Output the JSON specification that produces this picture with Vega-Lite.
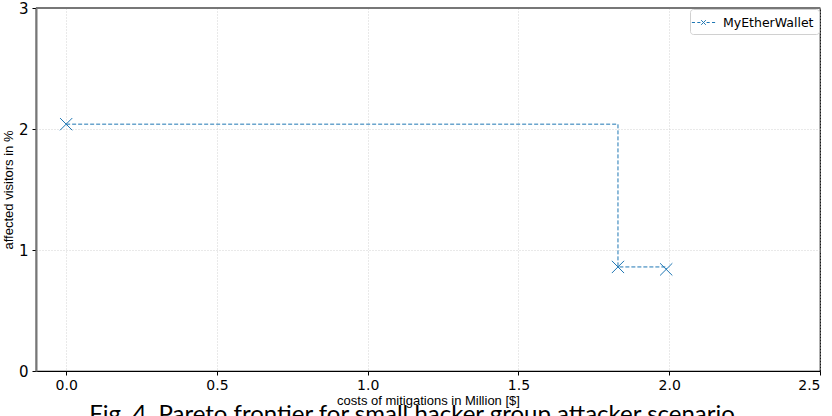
{
  "$schema": "https://vega.github.io/schema/vega-lite/v6.json",
  "width": 784,
  "height": 363,
  "autosize": {"type": "none"},
  "padding": {"left": 36, "top": 8, "right": 12, "bottom": 45},
  "background": "white",
  "title": {
    "text": "Fig. 4. Pareto frontier for small hacker group attacker scenario",
    "orient": "bottom",
    "anchor": "middle",
    "font": "Lato",
    "fontSize": 24,
    "fontWeight": "normal",
    "color": "#000",
    "dx": -16,
    "offset": -4
  },
  "config": {
    "view": {"stroke": "#000", "strokeWidth": 1.2},
    "axis": {
      "labelFont": "DejaVu Sans",
      "titleFont": "DejaVu Sans",
      "labelColor": "#000",
      "titleColor": "#000",
      "titleFontWeight": "normal",
      "grid": true,
      "gridColor": "#c8c8c8",
      "gridDash": [1, 2],
      "gridWidth": 0.8,
      "tickColor": "#000",
      "tickSize": 4
    }
  },
  "data": {
    "values": [
      {"cost": 0.0, "visitors": 2.04, "series": "MyEtherWallet"},
      {"cost": 1.83, "visitors": 0.86, "series": "MyEtherWallet"},
      {"cost": 1.99, "visitors": 0.84, "series": "MyEtherWallet"}
    ]
  },
  "encoding": {
    "x": {
      "field": "cost",
      "type": "quantitative",
      "scale": {"domain": [-0.1, 2.5], "nice": false, "zero": false},
      "axis": {
        "values": [0, 0.5, 1, 1.5, 2, 2.5],
        "format": ".1f",
        "labelFontSize": 14,
        "labelPadding": 3,
        "title": "costs of mitigations in Million [$]",
        "titleFont": "Liberation Sans",
        "titleFontSize": 13,
        "titlePadding": 2,
        "domainColor": "#000",
        "domainWidth": 1.2
      }
    },
    "y": {
      "field": "visitors",
      "type": "quantitative",
      "scale": {"domain": [0, 3], "nice": false},
      "axis": {
        "values": [0, 1, 2, 3],
        "format": "d",
        "labelFontSize": 15,
        "labelPadding": 4,
        "title": "affected visitors in %",
        "titleFont": "Liberation Sans",
        "titleFontSize": 13,
        "titlePadding": 3,
        "domainColor": "#777",
        "domainWidth": 2
      }
    },
    "color": {
      "field": "series",
      "type": "nominal",
      "scale": {"range": ["#1f77b4"]},
      "legend": {
        "title": null,
        "orient": "top-right",
        "offset": 1,
        "labelFont": "DejaVu Sans",
        "labelFontSize": 12.5,
        "labelColor": "#000",
        "labelOffset": 11,
        "symbolType": "M-1.5,0H-1.1M-0.8,0H-0.4M0.4,0H0.8M1.1,0H1.5M-0.3,-0.3L0.3,0.3M-0.3,0.3L0.3,-0.3",
        "symbolSize": 240,
        "symbolStrokeWidth": 1,
        "symbolFillColor": "transparent",
        "padding": 5,
        "strokeColor": "#d0d0d0",
        "fillColor": "white",
        "cornerRadius": 3
      }
    }
  },
  "layer": [
    {
      "mark": {"type": "rule", "color": "#777", "strokeWidth": 2},
      "encoding": {"y": {"datum": 3}, "x": null, "color": null}
    },
    {
      "mark": {"type": "line", "interpolate": "step-after", "strokeDash": [4, 2], "strokeWidth": 1}
    },
    {
      "mark": {
        "type": "point",
        "shape": "M-1,-1L1,1M-1,1L1,-1",
        "filled": false,
        "size": 150,
        "strokeWidth": 1,
        "opacity": 1
      }
    }
  ]
}
